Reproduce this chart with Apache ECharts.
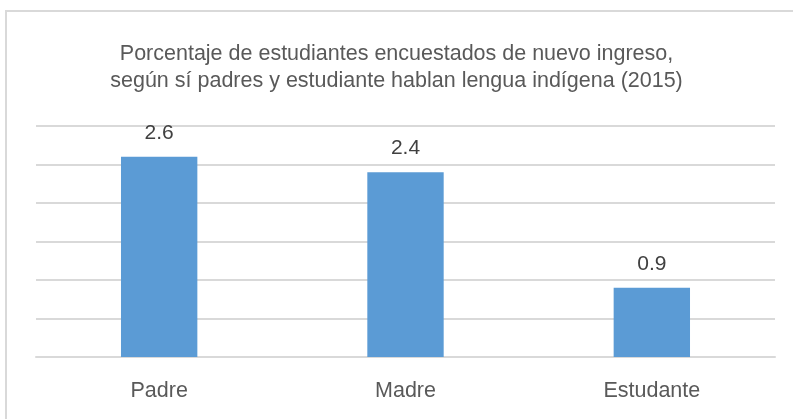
<!DOCTYPE html>
<html lang="es">
<head>
  <meta charset="UTF-8">
  <title>Lengua indígena</title>
  <style>
    html, body { margin: 0; padding: 0; background: #fff; }
    #main { width: 793px; height: 419px; }
  </style>
</head>
<body>
<div id="main"></div>
<script src="https://cdn.jsdelivr.net/npm/echarts@6/dist/echarts.min.js"></script>
<script>
  // datos
  const categorias = ['Padre', 'Madre', 'Estudante'];
  const valores = [2.6, 2.4, 0.9];
  const titulo = 'Porcentaje de estudiantes encuestados de nuevo ingreso,\nsegún sí padres y estudiante hablan lengua indígena (2015)';

  const fuente = '"Liberation Sans", Arial, sans-serif';

  let chart = echarts.init(document.getElementById('main'));
  let option = {
    animation: false,
    textStyle: { fontFamily: fuente },
    // marco del gráfico
    graphic: [{
      type: 'rect',
      shape: { x: 6, y: 11, width: 900, height: 500 },
      style: { fill: 'none', stroke: '#d9d9d9', lineWidth: 2 },
      silent: true
    }],
    title: {
      text: titulo,
      left: 'center',
      top: 36,
      textStyle: {
        fontFamily: fuente,
        fontSize: 21.5,
        fontWeight: 'normal',
        color: '#595959',
        lineHeight: 27
      }
    },
    grid: { left: 36, right: 18, top: 126, bottom: 62, containLabel: false },
    xAxis: {
      type: 'category',
      data: categorias,
      axisLine: { show: true, lineStyle: { color: '#d9d9d9', width: 2 } },
      axisTick: { show: false },
      axisLabel: { fontFamily: fuente, fontSize: 21.5, color: '#595959', margin: 23 }
    },
    yAxis: {
      type: 'value',
      min: 0,
      max: 3,
      interval: 0.5,
      axisLine: { show: false },
      axisTick: { show: false },
      axisLabel: { show: false },
      splitLine: { lineStyle: { color: '#d9d9d9', width: 2 } }
    },
    series: [{
      type: 'bar',
      data: valores,
      barWidth: '31%',
      itemStyle: { color: '#5b9bd5' },
      label: {
        show: true,
        position: 'top',
        distance: 13,
        fontFamily: fuente,
        fontSize: 21,
        color: '#404040'
      }
    }]
  };
  chart.setOption(option);
</script>
</body>
</html>
